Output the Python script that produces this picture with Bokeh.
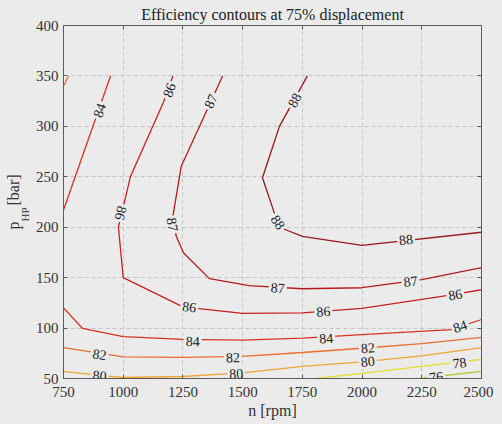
import math
from bokeh.plotting import figure
from bokeh.models import LinearAxis, FixedTicker, ColumnDataSource
from bokeh.core.properties import value
from bokeh.embed import file_html
from bokeh.resources import INLINE

# ---------------- data ----------------
n_ticks = [750, 1000, 1250, 1500, 1750, 2000, 2250, 2500]
p_ticks = [50, 100, 150, 200, 250, 300, 350, 400]

c76_n = [2240, 2310, 2500]
c76_p = [50, 52, 57]
c78_n = [1809, 2001, 2250, 2500]
c78_p = [50, 55, 62, 69]
c80_n = [750, 900, 1000, 1250, 1500, 1750, 2000, 2250, 2500]
c80_p = [57, 53, 51, 52, 55.5, 62, 66.5, 72.5, 80.7]
c82_n = [750, 1000, 1250, 1500, 1750, 2000, 2250, 2500]
c82_p = [80.7, 71.5, 71, 72, 75.8, 80, 84.5, 90.7]
c82b_n = [750, 771]
c82b_p = [340, 350]
c84_n = [750, 830, 1000, 1250, 1500, 1750, 2000, 2375, 2500]
c84_p = [120, 99.6, 91.6, 88.7, 88, 90, 93.6, 98.5, 108.5]
c84b_n = [750, 947]
c84b_p = [217, 350]
c86_n = [1208, 1168, 1030, 980, 1000, 1250, 1500, 1750, 2000, 2375, 2500]
c86_p = [350, 323.6, 250, 200, 150, 121, 114.5, 115, 119.5, 133, 138]
c87_n = [1416, 1243, 1236, 1208, 1222, 1252, 1361, 1528, 1750, 2000, 2250, 2500]
c87_p = [350, 260.5, 250.6, 211, 191, 174.6, 149, 142, 139, 140, 148, 160]
c88_n = [1771, 1654, 1583, 1637, 1675, 1750, 2000, 2500]
c88_p = [350, 300, 249, 211, 198, 191, 182, 195]

contours = [
    ("76", c76_n, c76_p, "#b5c93c"),
    ("78", c78_n, c78_p, "#e9d92a"),
    ("80", c80_n, c80_p, "#f2a431"),
    ("82", c82_n, c82_p, "#ec6d2c"),
    ("82", c82b_n, c82b_p, "#ec6d2c"),
    ("84", c84_n, c84_p, "#d8321f"),
    ("84", c84b_n, c84b_p, "#d8321f"),
    ("86", c86_n, c86_p, "#c8201e"),
    ("87", c87_n, c87_p, "#b51b1b"),
    ("88", c88_n, c88_p, "#9a1818"),
]

# contour label positions: (contour index, n, p, flipped)
lab_idx = [0, 1, 2, 2, 2, 3, 3, 3, 5, 5, 5, 6, 7, 7, 7, 7, 7, 8, 8, 8, 8, 9, 9, 9]
lab_n = [2310, 2408, 901, 1473, 2024, 901, 1459, 2024, 1291, 1850, 2410, 900,
         1192, 991, 1277, 1838, 2390, 1366, 1207, 1647, 2203, 1717, 1648, 2184]
lab_p = [51.7, 65.6, 53, 55, 67, 74, 71, 80.4, 87, 90, 101.9, 316,
         336, 214, 121, 116.7, 133.3, 325, 202.7, 140, 146.5, 326, 205, 187.8]
lab_flip = [False] * 12 + [False, True, False, False, False, False, False, False,
                           False, False, False, False]

# ---------------- figure ----------------
BG = "#ebebeb"
AX = "#5a5a5a"
TXT = "#333333"
FW, FH = 418, 353
X0, X1, Y0, Y1 = 750, 2500, 50, 400
SERIF = "Liberation Serif"
NB = "\u00a0"

p = figure(frame_width=FW, frame_height=FH, x_range=(X0, X1), y_range=(Y0, Y1),
           output_backend="svg", toolbar_location=None,
           background_fill_color=BG, border_fill_color=BG,
           min_border_left=63, min_border_right=12, min_border_top=25,
           min_border_bottom=37, outline_line_color=AX, outline_line_width=1)

p.title.text = "Efficiency contours at 75% displacement"
p.title.text_font = SERIF
p.title.text_font_size = "16px"
p.title.text_font_style = "normal"
p.title.text_color = "#222222"
p.title.align = "center"
p.title.offset = 0
p.title.standoff = 6

for ax in (p.xaxis[0], p.yaxis[0]):
    ax.major_label_text_font = SERIF
    ax.major_label_text_font_size = "15px"
    ax.major_label_text_color = TXT
    ax.axis_line_color = AX
    ax.major_tick_line_color = AX
    ax.major_tick_in = 4
    ax.major_tick_out = 0
    ax.minor_tick_line_color = None
    ax.major_label_standoff = 5
p.xaxis[0].major_label_standoff = 8
p.xaxis[0].ticker = FixedTicker(ticks=n_ticks)
p.yaxis[0].ticker = FixedTicker(ticks=p_ticks)
p.xaxis[0].axis_label = "n [rpm]"
p.xaxis[0].axis_label_text_font = SERIF
p.xaxis[0].axis_label_text_font_size = "16px"
p.xaxis[0].axis_label_text_font_style = "normal"
p.xaxis[0].axis_label_text_color = TXT
p.xaxis[0].axis_label_standoff = 2

# y label "p_HP [bar]": subscript on the inner axis, main text on an outer axis
p.yaxis[0].axis_label = "HP" + NB * 9
p.yaxis[0].axis_label_text_font = SERIF
p.yaxis[0].axis_label_text_font_size = "11px"
p.yaxis[0].axis_label_text_font_style = "normal"
p.yaxis[0].axis_label_text_color = TXT
p.yaxis[0].axis_label_standoff = 2

outer = LinearAxis(ticker=FixedTicker(ticks=[]), axis_line_color=None,
                   major_tick_line_color=None, major_tick_out=0, major_tick_in=0,
                   minor_tick_line_color=None, minor_tick_out=0, major_label_standoff=0,
                   axis_label="p" + NB * 4 + "[bar]", axis_label_text_font=SERIF,
                   axis_label_text_font_size="16px", axis_label_text_font_style="normal",
                   axis_label_text_color=TXT, axis_label_standoff=-6)
p.add_layout(outer, "left")

# mirrored inside ticks on the right and top (drawn as minor ticks, no labels)
for loc, tk in (("right", p_ticks), ("above", n_ticks)):
    a = LinearAxis(ticker=FixedTicker(ticks=[], minor_ticks=tk), axis_line_color=AX,
                   major_tick_line_color=None, major_tick_in=0, major_tick_out=0,
                   minor_tick_line_color=AX, minor_tick_in=4, minor_tick_out=0,
                   major_label_standoff=0)
    p.add_layout(a, loc)

p.xgrid.ticker = FixedTicker(ticks=n_ticks)
p.ygrid.ticker = FixedTicker(ticks=p_ticks)
for g in (p.xgrid[0], p.ygrid[0]):
    g.grid_line_color = "#c4c4c4"
    g.grid_line_dash = "4 3"
    g.grid_line_width = 1

# contour lines
for name, cn, cp, col in contours:
    p.line(cn, cp, line_color=col, line_width=1.3)

# label angles from local line direction (screen space)
sx = FW / (X1 - X0)
sy = FH / (Y1 - Y0)


def local_angle(cn, cp, n0, p0):
    best = None
    for i in range(len(cn) - 1):
        ax_, ay_ = cn[i] * sx, cp[i] * sy
        bx_, by_ = cn[i + 1] * sx, cp[i + 1] * sy
        px_, py_ = n0 * sx, p0 * sy
        dx, dy = bx_ - ax_, by_ - ay_
        L2 = dx * dx + dy * dy
        t = max(0.0, min(1.0, ((px_ - ax_) * dx + (py_ - ay_) * dy) / L2))
        d = (ax_ + t * dx - px_) ** 2 + (ay_ + t * dy - py_) ** 2
        if best is None or d < best[0]:
            best = (d, math.atan2(dy, dx))
    a = best[1]
    while a > math.pi / 2:
        a -= math.pi
    while a < -math.pi / 2:
        a += math.pi
    return a


angles, texts = [], []
for k, n0, p0, fl in zip(lab_idx, lab_n, lab_p, lab_flip):
    name, cn, cp, col = contours[k]
    a = local_angle(cn, cp, n0, p0)
    if fl:
        a -= math.pi
    angles.append(a)
    texts.append(name)

src = ColumnDataSource(dict(x=lab_n, y=lab_p, t=texts, a=angles))
p.text(x="x", y="y", text="t", angle="a", source=src, text_font=value(SERIF),
       text_font_size="14px", text_color="#222222", text_align="center",
       text_baseline="middle", background_fill_color=BG, padding=2)

html = file_html(p, INLINE)
html = html.replace("<head>", "<head><style>html,body{background:#ebebeb;}</style>", 1)
open("out.html", "w").write(html)
